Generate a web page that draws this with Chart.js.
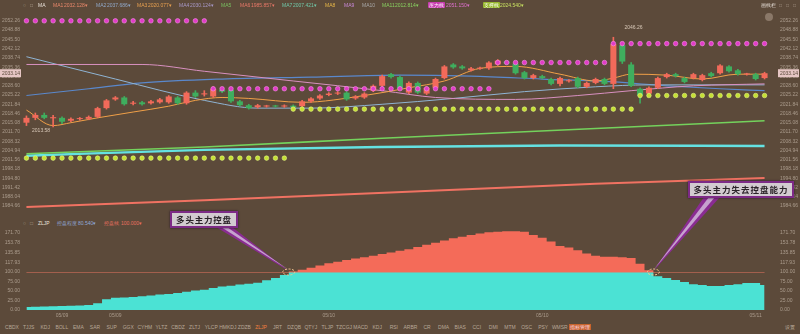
<!DOCTYPE html>
<html><head><meta charset="utf-8">
<script src="https://cdn.jsdelivr.net/npm/chart.js@4.4.0/dist/chart.umd.min.js"></script>
<style>
html,body{margin:0;padding:0;background:#5c4a3a;width:800px;height:334px;overflow:hidden;font-family:"Liberation Sans",Arial,sans-serif;}
#wrap{position:relative;width:800px;height:334px;}
canvas{position:absolute;left:0;}
.t{position:absolute;font-size:5px;line-height:6px;white-space:nowrap;color:#c8b8a8;}
.tag{padding:0 1px;border-radius:1px;color:#fff;}
.box{position:absolute;background:#d2cbd0;border:2px solid #7d2a86;box-shadow:0 0 2px #2a1a2a;box-sizing:border-box;
 font-family:"Noto Sans CJK SC","Noto Sans CJK TC",sans-serif;font-weight:700;color:#2a2228;text-align:center;z-index:5;}
#ov{z-index:4;}
.tab{position:absolute;top:324px;font-size:5px;line-height:6px;color:#b8a898;transform:translateX(-50%);white-space:nowrap;}
</style></head>
<body><div id="wrap">
<canvas id="main" width="800" height="206" style="top:10px"></canvas>
<canvas id="lower" width="800" height="96" style="top:226px"></canvas>
<canvas id="ov" width="800" height="334" style="top:0"></canvas>
<div class="box" id="box1" style="left:170px;top:211px;width:68px;height:17px;font-size:8.5px;line-height:13px;letter-spacing:0.8px;">多头主力控盘</div>
<div class="box" id="box2" style="left:688px;top:181px;width:106px;height:17px;font-size:8.5px;line-height:13px;letter-spacing:1px;">多头主力失去控盘能力</div>
</div>
<script>
// ---------------- DATA ----------------
const N = 84;
const openP = [2015.09,2016.86,2017.92,2016.70,2016.86,2015.80,2016.40,2016.50,2017.21,2020.40,
 2023.58,2024.29,2022.00,2022.52,2022.17,2022.52,2022.52,2024.29,2022.17,2026.06,
 2025.40,2024.65,2027.12,2027.12,2022.88,2021.46,2020.75,2021.00,2021.20,2021.00,
 2021.30,2021.11,2022.88,2023.94,2025.20,2025.71,2026.06,2023.94,2024.29,2026.77,
 2028.54,2032.79,2031.73,2026.06,2029.60,2025.71,2027.83,2031.37,2036.33,2035.62,
 2034.20,2034.80,2034.91,2036.33,2037.39,2036.68,2033.50,2031.37,2032.08,2031.02,
 2029.25,2030.20,2031.37,2028.19,2029.60,2031.02,2029.25,2043.40,2036.33,2027.48,
 2025.71,2027.83,2031.73,2032.79,2031.37,2031.37,2030.66,2033.14,2033.14,2035.62,
 2034.20,2032.70,2032.79,2031.37];
const highP = [2017.57,2018.63,2018.63,2017.80,2017.21,2016.86,2017.00,2017.57,2020.75,2023.58,
 2024.65,2024.65,2022.88,2022.88,2023.23,2023.94,2025.00,2024.65,2026.42,2026.77,
 2026.77,2028.19,2027.48,2027.48,2023.23,2021.81,2021.81,2021.46,2021.46,2021.60,
 2021.60,2023.23,2024.29,2025.35,2026.06,2026.42,2026.42,2025.00,2026.06,2028.89,
 2032.43,2033.14,2032.08,2029.96,2029.96,2028.19,2031.37,2035.97,2036.68,2035.97,
 2035.27,2035.40,2037.39,2038.10,2037.74,2037.04,2033.85,2032.79,2032.43,2031.37,
 2031.73,2030.80,2031.73,2029.96,2031.37,2031.37,2046.26,2044.12,2037.04,2027.83,
 2028.19,2031.73,2033.14,2033.14,2031.73,2033.14,2032.79,2033.50,2036.33,2035.97,
 2034.56,2033.14,2033.14,2033.50];
const lowP = [2014.03,2016.15,2016.50,2013.58,2014.73,2015.44,2016.00,2016.15,2016.86,2020.04,
 2023.23,2021.46,2021.60,2021.46,2021.81,2022.17,2022.17,2021.81,2021.81,2024.29,
 2024.80,2024.29,2026.06,2022.52,2021.11,2020.04,2020.40,2020.75,2020.75,2020.70,
 2020.40,2020.40,2022.52,2023.58,2024.90,2025.35,2023.23,2023.58,2023.94,2026.42,
 2028.19,2031.37,2027.12,2025.71,2025.71,2025.35,2027.48,2031.02,2034.91,2034.56,
 2033.85,2034.50,2034.56,2035.97,2036.33,2032.79,2031.02,2031.02,2031.02,2028.89,
 2028.54,2029.90,2027.83,2027.83,2029.25,2028.89,2027.50,2036.68,2028.19,2022.17,
 2025.35,2027.48,2031.37,2031.73,2029.60,2031.02,2030.31,2031.73,2032.79,2033.50,
 2032.43,2032.43,2030.66,2031.02];
const closeP = [2016.86,2017.92,2016.86,2017.10,2015.44,2016.50,2016.60,2017.21,2020.40,2023.23,
 2024.29,2021.81,2022.40,2021.81,2022.88,2023.58,2024.65,2022.17,2026.06,2024.65,
 2025.80,2027.48,2026.42,2022.88,2021.46,2020.40,2021.46,2021.20,2021.00,2021.25,
 2020.80,2022.88,2023.94,2025.00,2025.71,2026.06,2023.58,2024.65,2025.71,2028.54,
 2032.08,2031.73,2027.48,2029.60,2026.06,2027.83,2031.02,2035.62,2035.27,2034.91,
 2034.91,2035.00,2037.04,2037.74,2036.68,2033.14,2031.37,2032.43,2031.37,2029.25,
 2031.37,2030.45,2028.19,2029.60,2031.02,2029.25,2043.76,2037.39,2028.54,2025.00,
 2027.83,2031.37,2032.79,2032.08,2029.96,2032.79,2032.43,2032.08,2035.97,2033.85,
 2032.79,2032.90,2031.02,2033.14];

// stop-level dots: [fromBar, toBar, level]
const resistRuns = [[0,20,2052.26],[21,52,2027.48],[53,65,2037.04],[66,83,2043.94]];
const supportRuns = [[0,29,2002.17],[30,68,2020.04],[69,83,2025.00]];

// moving averages read at selected bars: [bar, value]
const maOrange = [[0,2019.69],[3,2014.03],[5,2015.09],[8,2016.86],[12,2018.98],[16,2021.11],[19,2023.23],[22,2024.29],[25,2023.94],[31,2022.52],[38,2025.00],[43,2027.83],[47,2030.31],[51,2034.91],[55,2035.62],[60,2032.79],[64,2030.31],[66,2031.37],[68,2032.79],[72,2032.43],[76,2031.02],[80,2032.79],[83,2032.79]];
const maPink = [[0,2036.33],[13,2036.33],[20,2033.85],[30,2030.31],[40,2026.77],[46,2024.29],[55,2023.58],[62,2025.00],[68,2026.77],[75,2028.54],[83,2029.25]];
const maLightBlue = [[0,2039.16],[10,2031.02],[20,2023.23],[26,2020.40],[32,2020.40],[40,2021.81],[48,2023.94],[56,2026.42],[64,2028.19],[70,2028.89],[83,2028.89]];
const maBlue = [[0,2025.00],[7,2027.48],[13,2029.60],[22,2031.02],[32,2031.73],[42,2032.43],[50,2032.08],[58,2031.02],[66,2029.96],[72,2028.54],[78,2027.48],[83,2026.77]];
const maGreen = [[0,2003.76],[20,2006.24],[40,2009.42],[64,2012.96],[83,2015.80]];
const maCyan = [[0,2003.05],[20,2005.18],[40,2006.24],[60,2006.77],[83,2006.59]];
const maRed = [[0,1984.29],[20,1986.77],[64,1992.79],[83,1994.91]];

const priceTicks = [2052.26,2048.88,2045.50,2042.12,2038.74,2035.36,2031.98,2028.60,2025.22,2021.84,2018.46,2015.08,2011.70,2008.32,2004.94,2001.56,1998.18,1994.80,1991.42,1988.04,1984.66];
const PRICE_MAX = 2054.38, PRICE_MIN = 1982.87;

// ZLJP indicator
const zljp = [8,8.5,9,10,10.5,11,12,13,
 18,28,32,33,34,36,38,41,42,45,48,51,53,58,62,64,67,69,72,78,84,92,101,
 104,108,112,116,119,122,125,127,130,133,136,139,142,146,150,154,158,162,165,168,171,173,174,175,175,174,168,163,156,148,145,140,134,130,128,128,127,126,115,103,
 89,84,79,74,68,66,63,63,66,68,71,71,66];
const CONTROL = 100;
const lowTicks = [0,25,50,75,100];
const highTicks = [117.93,135.85,153.78,171.70];
const dateTickIdx = [4,10,34,58,82];
const dateTickLbl = ['05/09','05/09','05/10','05/10','05/11'];

// ---------------- HTML texts ----------------
const wrap = document.getElementById('wrap');
function txt(x,y,t,c,bg){const s=document.createElement('span');s.className='t'+(bg?' tag':'');s.style.left=x+'px';s.style.top=y+'px';s.style.color=c;if(bg)s.style.background=bg;s.textContent=t;wrap.appendChild(s);return s;}
const topLegend = [
 [23,'○','#b0a090'],[30,'□','#b0a090'],[38,'MA','#e8e0d8'],
 [53,'MA1','#e8876a'],[64,'2032.128▾','#e8876a'],
 [96,'MA2','#90a8c8'],[107,'2037.686▾','#90a8c8'],
 [137,'MA3','#e8a050'],[148,'2020.077▾','#e8a050'],
 [179,'MA4','#a898c8'],[190,'2030.124▾','#a898c8'],
 [221,'MA5','#78c060'],
 [240,'MA6','#e87868'],[251,'1985.857▾','#e87868'],
 [282,'MA7','#70c8a8'],[293,'2007.421▾','#70c8a8'],
 [325,'MA8','#e8b848'],[344,'MA9','#c888d8'],[362,'MA10','#a8a8a8'],
 [382,'MA11','#88d060'],[395,'2012.814▾','#88d060'],
 [446,'2051.150▾','#e070d0'],[500,'2024.540▾','#c8e060'],
 [761,'画线栏','#e8e0d8']];
topLegend.forEach(a=>txt(a[0],2,a[1],a[2]));
txt(428,2,'压力线','#fff','#c83cb0');
txt(483,2,'支撑线','#fff','#98b830');
['□','□','□'].forEach((t,i)=>txt(779+i*7,2,t,'#a89888'));
const circ=document.createElement('div');Object.assign(circ.style,{position:'absolute',left:'765px',top:'13px',width:'8px',height:'8px',borderRadius:'50%',background:'#8a7868'});wrap.appendChild(circ);
// lower legend
txt(23,220,'○','#b0a090');txt(30,220,'□','#b0a090');txt(38,220,'ZLJP','#e8e0d8');
txt(57,220,'控盘程度','#90a8d8');txt(78,220,'80.540▾','#90a8d8');
txt(104,220,'控盘线','#e87060');txt(121,220,'100.000▾','#e87060');
// bottom tabs
const tabs = ['CBDX','TJJS','KDJ','BOLL','EMA','SAR','SUP','GGX','CYHM','YLTZ','CBDZ','ZLTJ','YLCP','HMKDJ','ZDZB','ZLJP','JRT','DZQB','QTYJ','TLJP','TZCGJ','MACD','KDJ','RSI','ARBR','CR','DMA','BIAS','CCI','DMI','MTM','OSC','PSY','WMSR','指标管理'];
tabs.forEach((t,i)=>{const s=document.createElement('span');s.className='tab';s.textContent=t;s.style.left=(12+i*16.6+(i===34?4:0))+'px';
 if(t==='ZLJP')s.style.color='#f08040';
 if(t==='指标管理'){s.style.background='#c8642c';s.style.color='#fde';s.style.padding='0 1px';}
 wrap.appendChild(s);});
{const s=document.createElement('span');s.className='tab';s.textContent='设置';s.style.left='790px';wrap.appendChild(s);}

// ---------------- CHARTS ----------------
const FAM = "'Liberation Sans', Arial, sans-serif";
const TICK_COLOR = '#ab9c8d';
const UP = '#f26a5a', DOWN = '#3fae5e';
const candleColors = openP.map((o,i)=> closeP[i] >= o ? UP : DOWN);
const expandRuns = runs => { const out=[]; runs.forEach(([a,b,v])=>{for(let i=a;i<=b;i++) out.push({x:i,y:v});}); return out; };
const pts = arr => arr.map(([i,v])=>({x:i,y:v}));
const noGrid = {grid:{display:false,drawTicks:false},border:{display:false}};
const fitV = w => s => { s.width = w; s.paddingTop = 0; s.paddingBottom = 0; };

function lineDs(data,color,w,order){return {type:'line',data:pts(data),borderColor:color,borderWidth:w,pointRadius:0,cubicInterpolationMode:'monotone',order:order};}

const priceMarks = {
  id:'priceMarks',
  afterDraw(chart){
    const {ctx, scales:{x,y}, chartArea} = chart;
    ctx.save();
    ctx.font = '5px ' + FAM;
    ctx.fillStyle = '#d8c8b8';
    ctx.textBaseline = 'middle';
    const hi = highP.indexOf(Math.max(...highP));
    const lo = lowP.indexOf(Math.min(...lowP));
    const hx = x.getPixelForValue(hi), hy = y.getPixelForValue(highP[hi]);
    ctx.textAlign = 'left';
    ctx.fillText(highP[hi].toFixed(2), hx + 11, hy - 10);
    const lx = x.getPixelForValue(lo), ly = y.getPixelForValue(lowP[lo]);
    ctx.textAlign = 'right';
    ctx.fillText(lowP[lo].toFixed(2), lx - 3, ly + 4);
    const last = closeP[N-1];
    const py = y.getPixelForValue(last);
    ctx.fillStyle = '#e6c6c4';
    ctx.fillRect(0, py-4, chartArea.left-1, 8);
    ctx.fillRect(chartArea.right+9, py-4, chart.width-chartArea.right-10, 8);
    ctx.fillStyle = '#5c4a3a';
    ctx.textAlign = 'right';
    ctx.fillText(last.toFixed(2), chartArea.left-2, py);
    ctx.textAlign = 'left';
    ctx.fillText(last.toFixed(2), chartArea.right+11, py);
    ctx.restore();
  }
};

const priceAxis = (pos, width, pad) => Object.assign({
  position: pos, min: PRICE_MIN, max: PRICE_MAX,
  afterBuildTicks: s => { s.ticks = priceTicks.map(v => ({value: v})); },
  afterFit: fitV(width),
  ticks: {font:{size:5,family:FAM}, color:TICK_COLOR, padding:pad, autoSkip:false, callback: v => Number(v).toFixed(2)}
}, noGrid);

const mainChart = new Chart(document.getElementById('main'), {
  type: 'bar',
  data: { datasets: [
    {type:'line', showLine:false, data:expandRuns(resistRuns), pointRadius:2.3, pointBackgroundColor:'#e23cc8', pointBorderColor:'rgba(255,150,240,0.55)', pointBorderWidth:1, order:0},
    {type:'line', showLine:false, data:expandRuns(supportRuns), pointRadius:2.3, pointBackgroundColor:'#c6e034', pointBorderColor:'rgba(235,255,140,0.55)', pointBorderWidth:1, order:0},
    {type:'bar', data: openP.map((o,i)=>({x:i, y:[o, closeP[i]]})), backgroundColor:candleColors, borderWidth:0, barPercentage:0.68, categoryPercentage:1, grouped:false, minBarLength:1, order:1},
    {type:'bar', data: lowP.map((l,i)=>({x:i, y:[l, highP[i]]})), backgroundColor:candleColors, borderWidth:0, barThickness:1, grouped:false, order:2},
    lineDs(maOrange,'#f0a048',1,3),
    lineDs(maPink,'#d890c0',1,4),
    lineDs(maLightBlue,'#8fb4d4',1,5),
    lineDs(maBlue,'#5a88cc',1.2,6),
    lineDs(maGreen,'#74d25c',1.6,7),
    lineDs(maCyan,'#64e2e2',2.4,8),
    lineDs(maRed,'#f07262',2,9)
  ]},
  options: {
    responsive:false, animation:false, devicePixelRatio:1,
    layout:{padding:{top:2,bottom:2,left:0,right:0}},
    plugins:{legend:{display:false}, tooltip:{enabled:false}},
    scales:{
      x:{type:'linear', min:-0.5, max:N-0.5, display:false, offset:false},
      y: priceAxis('left', 22, 2),
      y2: priceAxis('right', 31, 11)
    }
  },
  plugins:[priceMarks]
});

const lowAxis = (pos, stack, lo, hi, weight, ticks, width, pad) => Object.assign({
  type:'linear', position:pos, stack:stack, stackWeight:weight, min:lo, max:hi, display:true,
  afterBuildTicks: s => { s.ticks = ticks.map(v => ({value:v})); },
  afterFit: fitV(width),
  ticks:{font:{size:5,family:FAM}, color:TICK_COLOR, padding:pad, autoSkip:false, callback: v => Number(v).toFixed(2)}
}, noGrid);

const lowerChart = new Chart(document.getElementById('lower'), {
  type:'line',
  data:{ datasets:[
    {data:[{x:0,y:CONTROL},{x:N-1,y:CONTROL}], yAxisID:'yLow', borderColor:'#ea7460', borderWidth:1, pointRadius:0, order:0},
    {data: zljp.map((v,i)=>({x:i, y:Math.max(v, CONTROL)})), yAxisID:'yHigh', stepped:'middle', fill:{value:CONTROL}, backgroundColor:'#f46b59', borderWidth:0, pointRadius:0, order:1},
    {data: zljp.map((v,i)=>({x:i, y:Math.min(v, CONTROL)})), yAxisID:'yLow', stepped:'middle', fill:'origin', backgroundColor:'#4be2d4', borderWidth:0, pointRadius:0, order:2}
  ]},
  options:{
    responsive:false, animation:false, devicePixelRatio:1,
    layout:{padding:{top:2,bottom:0,left:0,right:0}},
    plugins:{legend:{display:false}, tooltip:{enabled:false}},
    scales:{
      x: Object.assign({type:'linear', min:-0.5, max:N-0.5, offset:false,
        afterBuildTicks: s => { s.ticks = dateTickIdx.map(v=>({value:v})); },
        afterFit: s => { s.height = 12; s.paddingLeft = 0; s.paddingRight = 0; },
        ticks:{font:{size:5,family:FAM}, color:TICK_COLOR, padding:3, maxRotation:0, autoSkip:false,
          callback: v => { const k = dateTickIdx.indexOf(v); return k >= 0 ? dateTickLbl[k] : ''; }}
      }, noGrid),
      yLow: lowAxis('left','L',0,100,38,lowTicks,22,2),
      yHigh: lowAxis('left','L',100,181,44,highTicks,22,2),
      yHighR: lowAxis('right','R',100,181,44,highTicks,31,11),
      yLowR: lowAxis('right','R',0,100,38,lowTicks,31,11)
    }
  }
});

// ---------------- callouts ----------------
(function(){
  const ov = document.getElementById('ov');
  const g = ov.getContext('2d');
  const lc = document.getElementById('lower');
  const top0 = lc.offsetTop;
  const xs = lowerChart.scales.x, ys = lowerChart.scales.yLow;
  const upK = zljp.findIndex((v,i)=> i>0 && zljp[i-1] < CONTROL && v >= CONTROL);
  const dnK = zljp.findIndex((v,i)=> i>0 && zljp[i-1] >= CONTROL && v < CONTROL);
  const cy = top0 + ys.getPixelForValue(CONTROL);
  const tips = [{x: xs.getPixelForValue(upK-0.5), y: cy}, {x: xs.getPixelForValue(dnK-0.5), y: cy}];
  const b1 = document.getElementById('box1'), b2 = document.getElementById('box2');
  const bases = [
    {x1: b1.offsetLeft+46, x2: b1.offsetLeft+62, y: b1.offsetTop+b1.offsetHeight-1},
    {x1: b2.offsetLeft+16, x2: b2.offsetLeft+32, y: b2.offsetTop+b2.offsetHeight-1}
  ];
  bases.forEach((b,k)=>{
    const t = tips[k];
    g.beginPath(); g.moveTo(b.x1,b.y); g.lineTo(b.x2,b.y); g.lineTo(t.x,t.y-1); g.closePath();
    g.fillStyle = '#8a2c92'; g.fill();
    const cx = (b.x1+b.x2)/2;
    g.beginPath(); g.moveTo(cx-3,b.y); g.lineTo(cx+3,b.y); g.lineTo(t.x,t.y-2); g.closePath();
    g.fillStyle = '#c6a2cf'; g.fill();
    g.save(); g.setLineDash([2,1.5]); g.strokeStyle = '#f4c890'; g.lineWidth = 1;
    g.beginPath(); g.ellipse(t.x, t.y, 6, 3, 0, 0, Math.PI*2); g.stroke(); g.restore();
  });
})();
</script>
</body></html>
